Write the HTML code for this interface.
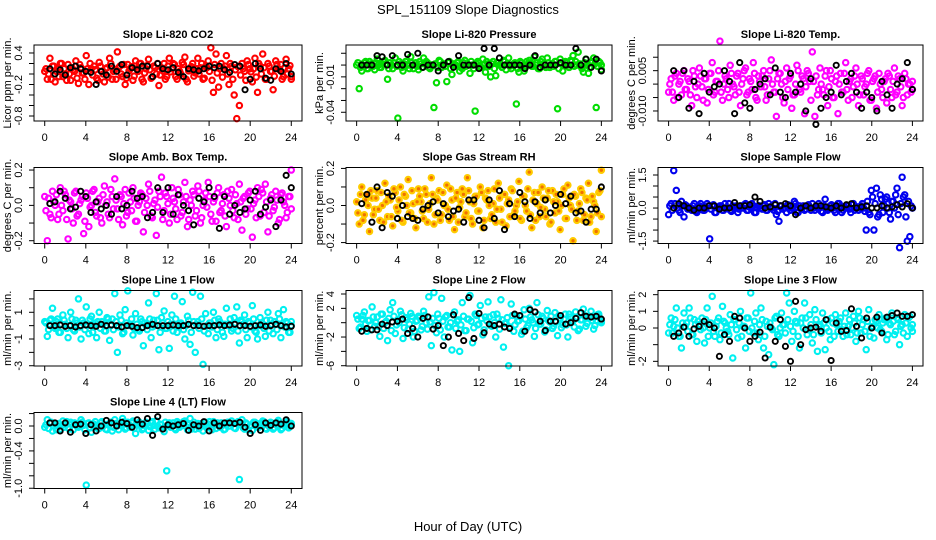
<!DOCTYPE html>
<html><head><meta charset="utf-8">
<style>
html,body{margin:0;padding:0;background:#fff;}
svg{display:block;font-family:"Liberation Sans",Arial,sans-serif;}
</style></head>
<body>
<svg id="chart" width="936" height="540" viewBox="0 0 936 540" xmlns="http://www.w3.org/2000/svg">
<rect width="936" height="540" fill="#fff"/>
<text x="468" y="14" text-anchor="middle" font-size="13">SPL_151109  Slope Diagnostics</text>
<text x="468" y="531" text-anchor="middle" font-size="13">Hour of Day (UTC)</text>
</svg>
<script>
const xTicks = [0,4,8,12,16,20,24];

const co2Vals = [0.05,-0.1,0.3,0.15,-0.15,0.1,0.2,-0.05,0.0,0.18,-0.12,0.08,0.25,-0.18,0.12,0.02,0.35,-0.2,0.1,0.15,-0.08,0.22,0.05,-0.15,0.12,0.3,-0.1,0.08,0.42,0.15,-0.05,-0.2,0.18,0.1,-0.12,0.25,0.05,0.2,-0.15,0.1,0.28,-0.08,0.15,0.0,-0.22,0.12,0.2,-0.05,0.3,0.1,0.18,-0.1,0.05,0.22,0.32,-0.15,0.1,0.2,0.02,0.3,0.12,-0.1,0.15,0.25,0.5,-0.35,0.38,-0.25,0.2,0.1,0.35,-0.2,0.15,-0.4,-0.85,-0.6,0.2,0.05,0.25,0.1,-0.15,0.3,-0.35,0.15,0.38,-0.1,0.2,0.05,-0.3,0.25,0.1,0.18,-0.05,0.28,0.1,-0.1];
const co2Core = [0.1,0.0,-0.1,0.15,0.05,-0.05,0.2,0.1,-0.12,0.0,0.12,0.05,-0.08,0.18,0.02,-0.1,0.1,0.2,-0.02,0.08,-0.12,0.15,0.0,0.1,-0.06,0.2,0.05,-0.1,0.12,0.0,0.18,-0.08,0.06,0.14,-0.04,0.1,0.2,-0.1,0.02,0.16,0.08,-0.06,0.12,0.2,-0.02,0.06,-0.1,0.15,0.04,0.2,-0.05,0.1,0.0,0.18,-0.1,0.06,0.14,-0.04,0.1,0.0,0.2,-0.08,0.12,0.05,-0.12,0.18,0.02,0.1,-0.06,0.15,0.0,0.2,-0.1,0.08,0.14,-0.02,0.1,-0.12,0.18,0.04,0.1,-0.06,0.2,0.0,0.12,-0.1,0.15,0.05,-0.04,0.18,0.08,-0.1,0.12,0.0,0.16,-0.05];
const co2Black = [0.1,0.0,0.08,-0.02,0.12,0.15,0.1,0.05,0.03,-0.2,0.05,-0.02,0.15,0.05,0.18,-0.02,0.12,0.08,0.15,0.15,-0.05,0.2,0.1,0.08,0.12,0.03,-0.05,0.1,0.08,0.06,0.1,0.15,0.12,0.15,0.08,0.03,0.18,0.15,-0.3,-0.1,0.2,0.1,-0.08,-0.12,0.1,0.05,0.2,0.0];

const presVals = [0.0,-0.02,-0.005,0.002,-0.003,0.003,0.0,-0.004,0.005,-0.002,0.001,0.004,-0.012,0.002,-0.003,0.006,-0.045,0.001,-0.005,0.003,0.0,0.007,-0.003,0.002,-0.004,0.001,0.006,0.003,-0.002,0.0,-0.036,-0.015,0.004,-0.002,0.001,-0.014,0.003,-0.008,0.0,0.002,-0.005,-0.003,0.004,0.001,-0.007,0.0,-0.039,0.003,-0.002,0.005,-0.006,0.001,-0.01,0.003,-0.009,0.002,0.0,0.004,-0.004,0.006,-0.003,0.001,-0.033,-0.006,0.002,-0.005,0.003,0.004,-0.001,0.007,0.002,-0.003,0.005,0.0,0.006,-0.002,0.001,0.003,-0.037,0.005,-0.005,0.003,0.0,0.004,0.008,0.003,0.011,-0.001,-0.006,0.005,-0.007,0.002,0.006,-0.036,0.003,-0.004];
const presCore = [0.002,-0.002,0.0,0.003,-0.003,0.001,-0.001,0.002,0.0,-0.002,0.003,0.001,-0.003,0.0,0.002,-0.001,0.003,-0.002,0.001,0.0,-0.003,0.002,0.0,-0.001,0.003,-0.002,0.001,0.002,-0.003,0.0,0.001,-0.002,0.003,0.0,-0.001,0.002,-0.003,0.001,0.0,0.003,-0.002,0.002,-0.001,0.0,0.003,-0.003,0.001,0.002,-0.002,0.0,0.003,-0.001,0.001,-0.003,0.002,0.0,-0.002,0.003,0.001,-0.001,0.0,0.002,-0.003,0.003,0.0,-0.002,0.001,0.002,-0.001,0.0,-0.003,0.003,0.001,-0.002,0.002,0.0,-0.001,0.003,-0.003,0.001,0.0,0.002,-0.002,0.003,-0.001,0.0,0.001,-0.003,0.002,0.0,-0.002,0.003,0.001,-0.001,0.002,0.0];
const presBlack = [0.0,0.0,0.0,0.008,0.007,0.0,0.008,0.0,0.0,0.009,0.0,0.01,-0.002,0.0,0.0,-0.005,0.0,0.003,-0.002,0.008,0.0,0.0,0.0,-0.003,0.014,0.0,0.014,0.006,0.0,0.0,0.0,0.0,-0.003,0.0,0.008,-0.002,0.0,0.0,0.0,0.002,0.0,0.0,0.014,0.0,0.005,-0.002,0.005,-0.005];

const tempVals = [-0.003,0.002,-0.006,0.004,0.0,-0.004,0.005,-0.002,0.001,-0.008,0.003,-0.005,0.006,-0.001,0.002,-0.007,0.004,0.008,-0.003,0.001,0.016,-0.006,0.003,-0.002,0.007,0.0,-0.004,0.004,-0.008,0.002,0.006,-0.003,0.001,0.008,-0.005,0.003,-0.001,0.005,-0.006,0.002,0.009,-0.003,-0.012,0.004,0.0,-0.007,0.006,0.002,-0.009,-0.004,0.007,-0.002,0.003,-0.011,0.005,0.001,0.012,-0.012,-0.004,0.006,-0.002,0.003,-0.008,0.005,-0.005,0.001,-0.011,0.004,-0.003,0.008,-0.006,0.002,-0.001,0.006,-0.008,0.003,-0.004,0.0,0.005,-0.006,0.002,-0.009,0.004,-0.002,0.001,-0.007,0.003,-0.005,0.006,-0.003,0.002,-0.008,0.004,-0.004,0.0,-0.002];
const tempCore = [0.0,-0.003,0.003,-0.005,0.001,0.004,-0.002,0.002,-0.004,0.005,-0.001,0.0,0.003,-0.006,0.002,-0.002,0.004,-0.004,0.001,0.005,-0.003,0.0,0.002,-0.005,0.004,-0.001,0.003,-0.003,0.0,0.005,-0.004,0.002,-0.002,0.004,-0.006,0.001,0.003,-0.001,-0.004,0.005,0.0,-0.003,0.002,0.004,-0.005,0.001,-0.002,0.003,-0.004,0.0,0.005,-0.003,0.002,-0.001,0.004,-0.006,0.001,0.003,-0.002,0.0,-0.004,0.005,-0.001,0.002,-0.005,0.003,0.0,-0.003,0.004,-0.002,0.001,-0.005,0.003,0.0,-0.004,0.002,-0.001,0.004,-0.006,0.001,0.003,-0.003,0.0,-0.005,0.002,0.004,-0.002,0.001,-0.004,0.003,-0.001,-0.005,0.002,0.0,-0.003,0.001];
const tempBlack = [0.005,-0.005,0.005,-0.009,0.001,-0.011,0.004,-0.003,-0.001,0.0,0.005,0.001,-0.011,0.008,-0.007,-0.009,-0.002,0.0,0.002,-0.004,0.006,-0.003,-0.005,0.004,-0.003,0.0,-0.010,0.002,-0.015,-0.009,-0.005,-0.003,0.007,-0.004,0.001,0.004,-0.003,-0.009,-0.003,-0.005,-0.010,0.001,-0.004,-0.009,0.0,0.002,0.008,-0.002];

const ambVals = [0.05,-0.2,-0.05,0.08,0.0,-0.08,0.1,-0.03,0.06,-0.19,0.02,-0.1,0.08,-0.05,0.03,-0.16,0.07,-0.12,0.0,0.09,-0.06,0.04,-0.1,0.11,0.02,-0.07,0.05,0.15,-0.02,0.06,-0.11,0.09,-0.04,0.02,0.1,-0.09,0.0,0.07,-0.15,0.04,0.12,-0.06,0.01,-0.17,0.08,0.16,-0.03,0.05,-0.1,0.1,0.02,-0.08,0.06,-0.04,0.13,-0.12,0.03,0.08,-0.06,0.11,-0.1,0.0,0.07,0.13,-0.05,0.02,-0.09,0.1,-0.03,0.06,-0.12,0.04,0.09,-0.07,0.01,0.12,-0.14,0.05,-0.02,0.08,-0.18,0.03,0.1,-0.06,0.07,0.12,-0.15,0.04,-0.03,0.08,-0.1,0.06,0.02,-0.07,0.05,0.2];
const ambCore = [-0.03,0.04,-0.07,0.02,0.06,-0.05,0.0,0.08,-0.08,0.03,-0.02,0.07,-0.06,0.01,0.05,-0.09,0.04,-0.01,0.08,-0.04,0.02,-0.07,0.06,0.0,-0.05,0.09,-0.02,0.03,-0.08,0.05,0.01,-0.06,0.07,-0.03,0.04,-0.09,0.02,0.06,-0.04,0.0,0.08,-0.07,0.03,-0.01,0.05,-0.08,0.07,0.01,-0.05,0.04,-0.02,0.09,-0.06,0.02,0.05,-0.08,0.0,0.06,-0.03,0.08,-0.07,0.03,-0.01,0.05,-0.09,0.04,0.07,-0.04,0.01,-0.06,0.08,0.0,-0.03,0.06,-0.08,0.02,0.04,-0.05,0.07,-0.02,0.01,-0.07,0.05,0.09,-0.04,0.02,-0.06,0.06,-0.01,0.03,-0.08,0.07,0.0,-0.04,0.05,-0.02];
const ambBlack = [0.01,0.02,0.08,0.04,-0.02,-0.01,0.08,0.05,-0.04,0.02,-0.02,0.0,-0.05,0.05,-0.02,0.0,0.08,0.04,0.05,-0.07,-0.04,0.1,-0.04,0.1,-0.05,0.06,0.0,-0.03,-0.11,0.04,0.02,0.1,0.05,-0.13,0.05,-0.05,0.0,-0.04,-0.02,0.03,0.08,-0.05,-0.01,0.03,-0.12,0.03,0.17,0.1];

const rhVals = [0.02,-0.1,0.1,-0.05,0.06,-0.14,0.04,-0.02,0.08,-0.08,0.0,0.12,-0.06,0.03,-0.11,0.07,-0.03,0.1,-0.09,0.05,0.14,-0.04,0.01,-0.12,0.09,0.02,-0.07,0.06,-0.02,0.15,-0.1,0.04,0.08,-0.05,0.0,0.11,-0.08,0.03,-0.13,0.07,-0.01,0.09,-0.06,0.15,0.02,-0.1,0.05,-0.03,0.1,-0.12,0.04,0.08,-0.07,0.01,-0.09,0.12,-0.02,0.06,-0.11,0.03,0.09,-0.05,0.0,0.13,-0.08,0.05,-0.03,0.18,-0.12,0.07,0.01,-0.06,0.1,-0.02,0.04,-0.1,0.08,-0.04,0.02,-0.13,0.06,-0.07,0.11,0.0,-0.19,0.05,-0.03,0.09,-0.08,0.04,0.12,-0.06,0.02,-0.14,0.07,0.19];
const rhCore = [-0.04,0.06,-0.08,0.03,0.0,0.08,-0.05,0.04,-0.02,0.07,-0.09,0.02,0.05,-0.06,0.09,-0.01,0.03,-0.08,0.06,0.0,-0.04,0.08,-0.07,0.02,0.05,-0.03,0.09,-0.09,0.01,0.06,-0.05,0.03,-0.08,0.07,0.0,-0.02,0.09,-0.06,0.04,-0.09,0.02,0.06,-0.04,0.08,-0.07,0.01,0.05,-0.03,0.07,-0.08,0.03,0.0,-0.05,0.09,-0.02,0.04,-0.09,0.06,0.01,-0.06,0.08,-0.03,0.02,-0.07,0.05,0.0,0.09,-0.05,0.03,-0.08,0.07,-0.01,0.04,-0.06,0.08,-0.09,0.02,0.06,-0.03,0.0,0.09,-0.07,0.04,-0.02,0.06,-0.08,0.01,0.07,-0.05,0.03,-0.09,0.05,0.0,-0.04,0.08,-0.06];
const rhBlack = [0.01,0.06,-0.09,0.1,-0.12,0.07,0.05,-0.07,0.0,-0.06,-0.07,-0.08,-0.02,0.0,0.02,-0.04,0.01,-0.06,-0.03,-0.02,-0.09,0.03,0.03,-0.08,-0.12,0.03,-0.07,0.08,-0.13,0.01,-0.06,0.07,0.02,-0.07,0.02,-0.04,0.03,-0.04,0.0,0.06,0.01,0.05,-0.04,-0.03,-0.09,-0.02,-0.02,0.1];

const sampVals = [-0.3,0.2,1.7,0.8,-0.1,0.3,-0.4,0.1,0.0,-0.1,0.2,-0.2,0.1,0.0,-0.1,0.2,-1.4,0.1,-0.2,0.0,0.1,-0.1,0.2,0.0,-0.1,0.1,0.0,-0.2,0.1,0.0,0.2,-0.1,0.0,0.1,-0.2,0.1,0.0,0.1,-0.1,0.2,0.0,-0.1,-0.3,-0.6,0.1,0.0,-0.2,0.1,0.0,0.3,-0.2,0.1,0.0,-0.1,0.1,0.0,0.2,-0.1,0.0,0.1,-0.2,0.4,-0.1,0.1,0.0,-0.2,0.2,0.1,-0.1,0.0,0.1,-0.2,0.2,0.0,-0.1,0.1,0.0,-1.0,-0.2,0.8,-1.0,0.9,-0.3,0.4,0.1,0.5,-0.2,0.3,0.0,0.9,-1.8,1.4,0.6,-1.5,-1.3,0.0];
const sampCore = [0.1,-0.1,0.2,0.0,-0.2,0.1,0.15,-0.05,0.0,0.1,-0.15,0.05,0.2,-0.1,0.0,0.1,-0.05,0.15,-0.2,0.05,0.1,-0.1,0.0,0.2,-0.15,0.05,0.1,-0.05,0.0,0.15,-0.1,0.05,0.2,-0.2,0.0,0.1,-0.05,0.15,-0.1,0.05,0.0,0.2,-0.15,0.1,-0.05,0.0,0.15,-0.1,0.05,0.2,-0.2,0.0,0.1,-0.05,0.15,-0.1,0.0,0.05,0.2,-0.15,0.1,-0.05,0.0,0.15,-0.1,0.05,0.2,-0.2,0.0,0.1,-0.05,0.15,-0.1,0.05,0.0,0.2,-0.15,0.3,-0.3,0.5,0.2,-0.4,0.6,-0.2,0.4,0.0,-0.5,0.3,0.6,-0.3,0.2,0.5,-0.4,0.3,0.1,0.0];
const sampBlack = [0.0,0.2,0.1,0.0,-0.1,0.0,0.0,0.1,0.1,-0.05,0.0,0.0,0.25,0.1,0.1,0.15,0.5,0.3,0.0,0.05,0.15,0.1,0.2,0.1,-0.3,0.0,0.1,0.0,0.1,0.1,0.05,0.0,0.1,0.0,0.15,0.2,0.0,0.05,0.1,0.0,0.0,0.1,0.0,0.05,0.15,0.05,0.2,0.0];

const l1Vals = [0.3,-0.8,0.4,1.3,-0.2,0.5,-0.5,0.8,0.1,-0.9,1.0,-0.3,0.4,2.0,-1.0,0.2,1.4,-0.6,0.7,0.0,-0.9,1.0,0.3,-0.4,0.6,-1.1,0.5,2.4,-2.0,0.8,-0.6,1.2,2.6,0.1,-0.7,0.9,-0.3,0.5,-1.5,0.0,1.7,-0.9,0.4,2.4,-1.8,0.6,1.1,-0.2,-1.7,0.8,2.2,-0.5,0.1,1.8,-1.0,0.7,-1.4,2.5,-2.0,0.3,2.2,-2.9,0.9,-0.6,0.2,1.0,-0.9,0.5,0.1,-0.8,1.3,0.0,-0.4,0.6,1.4,-1.3,0.3,0.8,-0.9,0.2,1.5,-0.4,-1.0,0.6,0.0,-0.8,1.0,0.4,-0.6,0.1,0.9,-0.9,1.2,0.3,-0.5,0.0];
const l1Core = [0.2,-0.3,0.5,-0.1,0.3,-0.5,0.1,0.4,-0.2,0.0,0.5,-0.4,0.2,-0.1,0.4,-0.3,0.0,0.5,-0.5,0.2,0.3,-0.2,0.1,-0.4,0.5,0.0,-0.3,0.3,-0.1,0.4,-0.5,0.2,0.0,0.5,-0.2,0.1,-0.4,0.3,0.2,-0.3,0.5,-0.1,0.0,0.4,-0.5,0.2,-0.2,0.3,0.1,-0.4,0.5,-0.1,0.2,-0.3,0.0,0.4,-0.5,0.3,0.1,-0.2,0.5,-0.4,0.0,0.2,-0.1,0.4,-0.3,0.3,-0.5,0.1,0.0,0.5,-0.2,0.2,-0.4,0.4,0.1,-0.3,0.3,-0.1,0.5,-0.5,0.0,0.2,-0.2,0.4,-0.4,0.1,0.3,-0.3,0.5,0.0,-0.1,0.2,-0.5,0.3];
const l1Black = [0.0,0.0,0.05,-0.05,0.0,-0.1,0.0,0.05,0.0,-0.05,0.1,0.0,0.05,0.0,-0.1,0.0,-0.05,-0.15,-0.15,0.0,0.1,0.0,0.0,0.0,0.05,0.0,0.0,0.1,0.0,0.0,-0.05,0.0,0.0,0.05,0.0,0.05,0.1,0.0,0.0,-0.05,0.0,0.05,-0.05,0.0,0.1,0.0,-0.1,-0.05];

const l2Vals = [1.0,-0.8,0.5,1.5,-1.2,0.3,2.2,-0.5,0.8,-1.9,1.2,0.0,-2.5,1.8,2.8,-1.5,0.4,1.6,-2.2,0.7,-0.9,1.3,-2.0,0.2,0.9,-1.0,1.6,0.0,3.6,-3.2,4.2,-1.4,0.6,3.4,-2.0,1.0,-0.6,-3.8,1.5,0.2,-4.0,2.8,-1.1,0.5,3.8,-2.8,1.2,-0.3,2.4,-1.7,0.8,2.9,-0.4,1.1,-2.0,0.6,3.2,-3.4,0.0,-6.0,2.6,-1.2,0.9,0.3,-1.6,1.8,-0.7,2.0,0.4,-1.9,2.8,-0.2,0.9,-1.3,1.7,0.1,-0.8,1.4,-1.8,0.6,-0.3,1.2,-2.0,0.8,0.2,1.5,-1.1,0.4,1.9,-0.5,0.9,1.6,-0.9,0.3,1.2,0.0];
const l2Core = [0.5,-0.6,1.0,-0.2,0.3,-1.0,0.8,0.0,-0.5,1.2,-0.8,0.2,0.6,-1.1,0.9,-0.3,0.0,1.1,-0.7,0.4,-0.2,0.9,-1.2,0.3,0.7,-0.5,1.0,-0.9,0.1,0.6,-0.4,1.2,-1.0,0.2,0.8,-0.6,0.0,1.1,-0.8,0.4,-0.3,0.9,-1.1,0.5,0.2,-0.7,1.0,-0.2,0.6,-1.0,0.3,0.8,-0.5,0.0,1.2,-0.9,0.4,-0.1,0.7,-0.6,1.0,-0.3,0.2,0.9,-1.2,0.5,-0.4,0.8,0.0,-0.8,1.1,-0.2,0.6,-1.0,0.3,0.9,-0.5,0.1,1.0,-0.7,0.5,-0.3,1.2,0.2,-0.6,0.8,-0.9,0.4,1.0,-0.1,0.7,0.3,-0.4,1.1,0.6,0.2];
const l2Black = [-1.2,-0.8,-1.0,-1.0,-0.2,-0.4,0.1,0.2,0.5,-1.5,-0.8,-2.0,0.6,0.8,-0.9,-0.4,-3.2,-2.0,1.1,-1.5,-2.5,3.5,-2.2,1.3,-1.4,-0.2,-0.4,-0.2,-0.6,-0.8,1.2,1.0,-1.2,1.8,1.5,0.2,-1.1,0.2,0.2,1.0,-0.2,0.0,0.6,1.4,0.9,0.8,0.9,0.5];

const l3Vals = [-0.3,0.6,0.1,1.2,-0.5,-1.2,0.9,0.3,1.2,-0.4,0.5,-0.8,0.2,0.6,-0.9,1.2,0.0,1.9,-0.5,0.4,-0.7,1.3,0.3,-0.2,0.8,-1.8,0.5,-0.6,1.0,0.1,-1.2,0.6,2.1,-0.3,0.9,-0.7,1.2,-1.2,0.4,-1.6,0.0,-2.2,0.7,-0.5,0.9,0.2,2.1,1.5,-0.8,1.0,0.3,-1.2,0.6,1.5,-0.4,0.8,-0.9,1.1,-1.4,0.2,0.9,-1.3,0.5,-0.7,0.3,0.8,-0.2,0.6,-0.5,0.9,0.1,-0.4,0.7,-0.8,1.0,-0.3,0.5,-1.3,1.1,0.0,-0.6,0.4,0.8,-0.2,0.5,-0.7,0.3,0.9,-0.4,0.6,-1.0,0.2,0.8,-0.5,0.7,-0.2];
const l3Core = [0.2,-0.3,0.5,0.0,-0.5,0.3,0.1,-0.2,0.6,-0.4,0.2,0.4,-0.1,0.0,0.5,-0.5,0.3,-0.2,0.1,0.6,-0.3,0.4,0.0,-0.4,0.2,0.5,-0.1,0.3,-0.5,0.1,0.6,-0.2,0.0,0.4,-0.3,0.2,0.5,-0.5,0.1,0.3,-0.1,0.6,-0.4,0.0,0.2,-0.3,0.5,0.1,-0.2,0.4,-0.5,0.3,0.0,0.6,-0.1,0.2,-0.4,0.5,0.1,-0.3,0.3,0.0,-0.2,0.6,-0.5,0.2,0.4,-0.1,0.1,-0.4,0.5,0.0,0.3,-0.3,0.6,0.2,-0.2,0.4,-0.5,0.1,0.5,0.0,-0.1,0.3,0.6,-0.4,0.2,0.4,-0.2,0.5,0.1,-0.3,0.3,0.6,0.0,0.2];
const l3Black = [-0.5,-0.3,0.05,-0.5,-0.05,0.1,0.4,0.2,0.0,-1.7,-0.4,-0.8,0.7,0.6,0.0,-0.8,-0.5,-0.25,-1.8,0.05,-0.8,0.5,-1.1,-2.0,1.6,-1.0,-0.1,0.0,0.05,-0.2,0.5,-1.95,0.3,-0.2,-0.15,1.15,0.1,-0.6,0.6,0.0,0.65,-0.3,0.65,0.75,0.9,0.7,0.7,0.8];

const l4Vals = [-0.02,0.1,0.05,-0.08,0.03,0.0,-0.05,0.08,0.02,-0.03,0.06,-0.06,0.04,-0.02,0.1,0.01,-0.95,0.05,-0.1,0.03,0.0,-0.04,0.07,0.02,-0.06,0.04,-0.08,0.1,0.0,0.03,0.12,-0.05,0.06,-0.02,0.08,-0.12,0.04,0.0,-0.04,0.06,-0.07,0.05,0.01,0.08,-0.03,0.02,-0.09,-0.72,0.05,0.0,-0.04,0.07,-0.02,0.03,0.08,-0.06,0.12,0.02,-0.05,0.04,0.0,-0.08,0.06,-0.02,0.03,0.07,-0.04,0.01,0.05,-0.06,0.02,0.0,0.08,-0.03,0.05,-0.86,0.1,-0.05,0.03,0.0,-0.07,0.06,-0.02,0.04,0.08,-0.04,0.01,0.06,-0.05,0.03,0.09,-0.06,0.02,0.05,-0.03,0.04];
const l4Core = [0.02,-0.04,0.06,0.0,-0.06,0.04,0.01,-0.02,0.07,-0.05,0.03,0.05,-0.01,0.0,0.06,-0.06,0.04,-0.03,0.02,0.07,-0.04,0.05,0.0,-0.05,0.03,0.06,-0.02,0.04,-0.06,0.01,0.07,-0.03,0.0,0.05,-0.04,0.02,0.06,-0.06,0.01,0.04,-0.01,0.07,-0.05,0.0,0.03,-0.04,0.06,0.01,-0.02,0.05,-0.06,0.04,0.0,0.07,-0.01,0.02,-0.05,0.06,0.01,-0.04,0.04,0.0,-0.03,0.07,-0.06,0.02,0.05,-0.02,0.01,-0.05,0.06,0.0,0.04,-0.04,0.07,0.02,-0.03,0.05,-0.06,0.01,0.06,0.0,-0.02,0.04,0.07,-0.05,0.03,0.05,-0.03,0.06,0.01,-0.04,0.04,0.07,0.0,0.02];
const l4Black = [0.05,0.05,-0.08,0.05,-0.1,0.02,0.03,-0.12,0.02,-0.08,0.0,0.09,0.05,0.0,0.06,0.04,-0.02,0.1,0.03,0.12,-0.15,0.15,-0.05,0.02,0.0,0.02,0.04,-0.07,0.02,0.0,0.07,-0.08,0.05,0.0,0.05,0.05,0.04,0.06,-0.02,-0.12,0.02,-0.07,0.05,0.01,0.05,0.03,0.1,0.0];

const co2Ticks=[0.4,0.2,0,-0.2,-0.4,-0.6,-0.8], co2Labels=["0.4","","","-0.2","","","-0.8"];
const presTicks=[0.01,0,-0.01,-0.02,-0.03,-0.04], presLabels=["","","-0.01","","","-0.04"];
const tempTicks=[0.01,0.005,0,-0.005,-0.01], tempLabels=["","0.005","","","-0.010"];
const ambTicks=[0.2,0.1,0,-0.1,-0.2], ambLabels=["0.2","","0.0","","-0.2"];
const rhTicks=[0.2,0.1,0,-0.1,-0.2], rhLabels=["0.2","","0.0","","-0.2"];
const sampTicks=[1.5,1,0.5,0,-0.5,-1,-1.5], sampLabels=["1.5","","","0.0","","","-1.5"];
const l1Ticks=[2,1,0,-1,-2,-3], l1Labels=["","1","","-1","","-3"];
const l2Ticks=[4,2,0,-2,-4,-6], l2Labels=["4","2","","-2","","-6"];
const l3Ticks=[2,1,0,-1,-2], l3Labels=["2","1","0","","-2"];
const l4Ticks=[0.2,0,-0.2,-0.4,-0.6,-0.8,-1.0], l4Labels=["","0.0","","-0.4","","","-1.0"];

const NS="http://www.w3.org/2000/svg";
const svg=document.getElementById('chart');
const cols=[[34,302],[346,612],[658,923]];
const rows=[[45,121],[167.5,243.5],[290.5,366],[412.5,488.5]];
const panels=[
 {key:'co2',title:'Slope Li-820 CO2',ylab:'Licor ppm per min.',c:0,r:0,ylim:[-0.895,0.552],vals:co2Vals,core:co2Core,blk:co2Black,ticks:co2Ticks,labels:co2Labels,col:'#ff0000'},
 {key:'pressure',title:'Slope Li-820 Pressure',ylab:'kPa per min.',c:1,r:0,ylim:[-0.0474,0.017],vals:presVals,core:presCore,blk:presBlack,ticks:presTicks,labels:presLabels,col:'#00dd00'},
 {key:'li820-temp',title:'Slope Li-820 Temp.',ylab:'degrees C per min.',c:2,r:0,ylim:[-0.01373,0.01455],vals:tempVals,core:tempCore,blk:tempBlack,ticks:tempTicks,labels:tempLabels,col:'#ff00ff'},
 {key:'amb-box-temp',title:'Slope Amb. Box Temp.',ylab:'degrees C per min.',c:0,r:1,ylim:[-0.2158,0.2144],vals:ambVals,core:ambCore,blk:ambBlack,ticks:ambTicks,labels:ambLabels,col:'#ff00ff'},
 {key:'gas-stream-rh',title:'Slope Gas Stream RH',ylab:'percent per min.',c:1,r:1,ylim:[-0.205,0.205],vals:rhVals,core:rhCore,blk:rhBlack,ticks:rhTicks,labels:rhLabels,col:'#ffcc00',inner:'#f07000'},
 {key:'sample-flow',title:'Slope Sample Flow',ylab:'ml/min per min.',c:2,r:1,ylim:[-1.61,1.84],vals:sampVals,core:sampCore,blk:sampBlack,ticks:sampTicks,labels:sampLabels,col:'#0000ee'},
 {key:'line1-flow',title:'Slope Line 1 Flow',ylab:'ml/min per min.',c:0,r:2,ylim:[-3.02,2.63],vals:l1Vals,core:l1Core,blk:l1Black,ticks:l1Ticks,labels:l1Labels,col:'#00f0f0'},
 {key:'line2-flow',title:'Slope Line 2 Flow',ylab:'ml/min per min.',c:1,r:2,ylim:[-6.04,4.49],vals:l2Vals,core:l2Core,blk:l2Black,ticks:l2Ticks,labels:l2Labels,col:'#00f0f0'},
 {key:'line3-flow',title:'Slope Line 3 Flow',ylab:'ml/min per min.',c:2,r:2,ylim:[-2.28,2.25],vals:l3Vals,core:l3Core,blk:l3Black,ticks:l3Ticks,labels:l3Labels,col:'#00f0f0'},
 {key:'line4-flow',title:'Slope Line 4 (LT) Flow',ylab:'ml/min per min.',c:0,r:3,ylim:[-1.004,0.217],vals:l4Vals,core:l4Core,blk:l4Black,ticks:l4Ticks,labels:l4Labels,col:'#00f0f0'}
];
function mk(tag,attrs,parent){const e=document.createElementNS(NS,tag);for(const k in attrs)e.setAttribute(k,attrs[k]);(parent||svg).appendChild(e);return e;}
panels.forEach(p=>{
  const L=cols[p.c][0],R=cols[p.c][1],T=rows[p.r][0],B=rows[p.r][1];
  const xs=h=>L+(R-L)*(0.04+h/24*0.92);
  const ys=v=>B-(v-p.ylim[0])/(p.ylim[1]-p.ylim[0])*(B-T);
  const g=mk('g',{});
  
  
  const t=mk('text',{x:(L+R)/2,y:T-7,'text-anchor':'middle','font-size':'11','font-weight':'bold'},g);
  t.textContent=p.title;
  
  
  const pts=mk('g',{},g);
  
  
  [p.vals,p.core].forEach((arr,k)=>{
    const n=arr.length;
    arr.forEach((v,i)=>{
      const h=Math.min(24,i*24/(n-1)+(k?0.12:0));
      const c=mk('circle',{cx:xs(h),cy:ys(v),r:2.7,fill:p.inner?p.inner:'none',stroke:p.col,'stroke-width':2.1},pts);
      
      
    });
  });
  const m=p.blk.length;
  p.blk.forEach((v,i)=>{
    const h=0.5+i*23.5/(m-1);
    const c=mk('circle',{cx:xs(h),cy:ys(v),r:2.6,fill:'none',stroke:'#000','stroke-width':1.9},pts);
    
    
  });
  const box=mk('rect',{x:L,y:T,width:R-L,height:B-T,fill:'none',stroke:'#000','stroke-width':1},g);
  
  
  const xa=mk('g',{},g);
  
  
  mk('line',{x1:xs(xTicks[0]),x2:xs(xTicks[xTicks.length-1]),y1:B,y2:B,stroke:'#000'},xa);
  xTicks.forEach(h=>{
    mk('line',{x1:xs(h),x2:xs(h),y1:B,y2:B+5,stroke:'#000'},xa);
    const tl=mk('text',{x:xs(h),y:B+20,'text-anchor':'middle','font-size':'11'},xa);
    tl.textContent=h;
    
    
  });
  const ya=mk('g',{},g);
  
  
  mk('line',{x1:L,x2:L,y1:ys(p.ticks[0]),y2:ys(p.ticks[p.ticks.length-1]),stroke:'#000'},ya);
  p.ticks.forEach((v,i)=>{
    const y=ys(v);
    mk('line',{x1:L-5,x2:L,y1:y,y2:y,stroke:'#000'},ya);
    if(p.labels[i]){
      const tl=mk('text',{x:0,y:0,'text-anchor':'middle','font-size':'11',transform:`translate(${L-12},${y}) rotate(-90)`},ya);
      tl.textContent=p.labels[i];
      
      
    }
  });
  const yt=mk('text',{x:0,y:0,'text-anchor':'middle','font-size':'11',transform:`translate(${L-23},${(T+B)/2}) rotate(-90)`},g);
  yt.textContent=p.ylab;
  
  
});
</script>
</body></html>
